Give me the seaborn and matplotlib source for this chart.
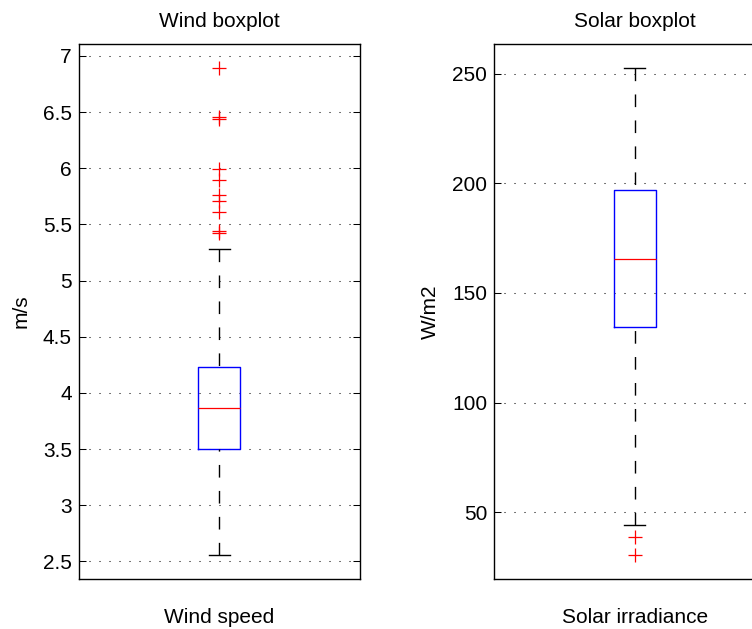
import numpy as np
import pandas as pd
import matplotlib
matplotlib.use("Agg")
import matplotlib.pyplot as plt
import seaborn as sns
from matplotlib.ticker import FuncFormatter

# ---------------- data ----------------
wind_label = "Wind speed"
wind_title = "Wind boxplot"
wind_unit = "m/s"
wind_whiskers = [2.56, 5.28]            # lower / upper whisker ends
wind_quartiles = [3.50, 3.87, 4.23]     # Q1, median, Q3
wind_outliers = [6.89, 6.46, 6.44, 5.99, 5.90, 5.76, 5.71, 5.61, 5.44, 5.42]
wind_ticks = [2.5, 3, 3.5, 4, 4.5, 5, 5.5, 6, 6.5, 7]

solar_label = "Solar irradiance"
solar_title = "Solar boxplot"
solar_unit = "W/m2"
solar_whiskers = [44.1, 252.4]
solar_quartiles = [134.4, 165.4, 196.8]
solar_outliers = [38.5, 30.6]
solar_ticks = [50, 100, 150, 200, 250]


def sample_from_summary(whiskers, quartiles, outliers):
    """Sample whose Tukey box statistics equal the values read above."""
    lo, hi = whiskers
    q1, med, q3 = quartiles
    below = sorted(o for o in outliers if o < q1) + [lo]
    above = [hi] + sorted(o for o in outliers if o > q3)
    k = max(len(below), len(above))
    below = below + [q1] * (k - len(below))
    above = [q3] * (k - len(above)) + above
    return below + [q1] + [med] * k + [q3] * k + above


plt.rcParams['font.family'] = ['Liberation Sans', 'DejaVu Sans']

W, H = 752, 629
fig = plt.figure(figsize=(W / 100, H / 100), dpi=100)
fig.patch.set_facecolor('white')

ax_w = 281.3
ax_h = 535
ax1 = fig.add_axes([78.7 / W, 50 / H, ax_w / W, ax_h / H])
ax2 = fig.add_axes([494 / W, 50 / H, ax_w / W, ax_h / H])

panels = [
    (ax1, wind_label, wind_title, wind_unit, wind_whiskers, wind_quartiles,
     wind_outliers, wind_ticks, 9),
    (ax2, solar_label, solar_title, solar_unit, solar_whiskers, solar_quartiles,
     solar_outliers, solar_ticks, 9),
]

FS = 15
for ax, label, title, unit, whis, quart, outl, ticks, lpad in panels:
    vals = sample_from_summary(whis, quart, outl)
    df = pd.DataFrame({"group": [label] * len(vals), "value": vals})
    sns.boxplot(
        data=df, x="group", y="value", ax=ax, width=0.15, fill=False,
        whis=1.5, linewidth=0.9,
        boxprops=dict(color="blue", linewidth=1.0),
        medianprops=dict(color="red", linewidth=0.9),
        whiskerprops=dict(color="black", linestyle=(0, (9.1, 9.6)), linewidth=1.0),
        capprops=dict(color="black", linewidth=1.0),
        flierprops=dict(marker="+", markeredgecolor="red", markerfacecolor="red",
                        markersize=10, markeredgewidth=0.9),
    )
    # draw whiskers from their end toward the box (dash starts at cap)
    for ln in ax.lines:
        if ln.get_linestyle() == '--':
            xs, ys = ln.get_data()
            ln.set_data(np.asarray(xs)[::-1], np.asarray(ys)[::-1])

    allv = np.array(vals)
    rng = allv.max() - allv.min()
    ax.set_ylim(allv.min() - 0.05 * rng, allv.max() + 0.05 * rng)
    ax.set_xlim(-0.5, 0.5)
    ax.set_yticks(ticks)
    ax.yaxis.set_major_formatter(FuncFormatter(lambda v, p: f"{v:g}"))
    ax.yaxis.grid(True, linestyle=(0, (1, 8.6)), color="black", linewidth=0.75)
    ax.xaxis.grid(False)
    ax.set_facecolor("white")
    for s in ax.spines.values():
        s.set_visible(True)
        s.set_color("black")
        s.set_linewidth(1.0)
    ax.tick_params(axis="y", direction="in", length=4.8, width=0.75,
                   left=True, right=True, labelsize=FS, pad=5, colors="black")
    ax.tick_params(axis="x", length=0, labelsize=FS, pad=21, colors="black")
    ax.set_xlabel("")
    ax.set_ylabel(unit, fontsize=FS, labelpad=lpad)
    ax.set_title(title, fontsize=FS, pad=12)

fig.savefig("out.png", dpi=100, facecolor="white")
